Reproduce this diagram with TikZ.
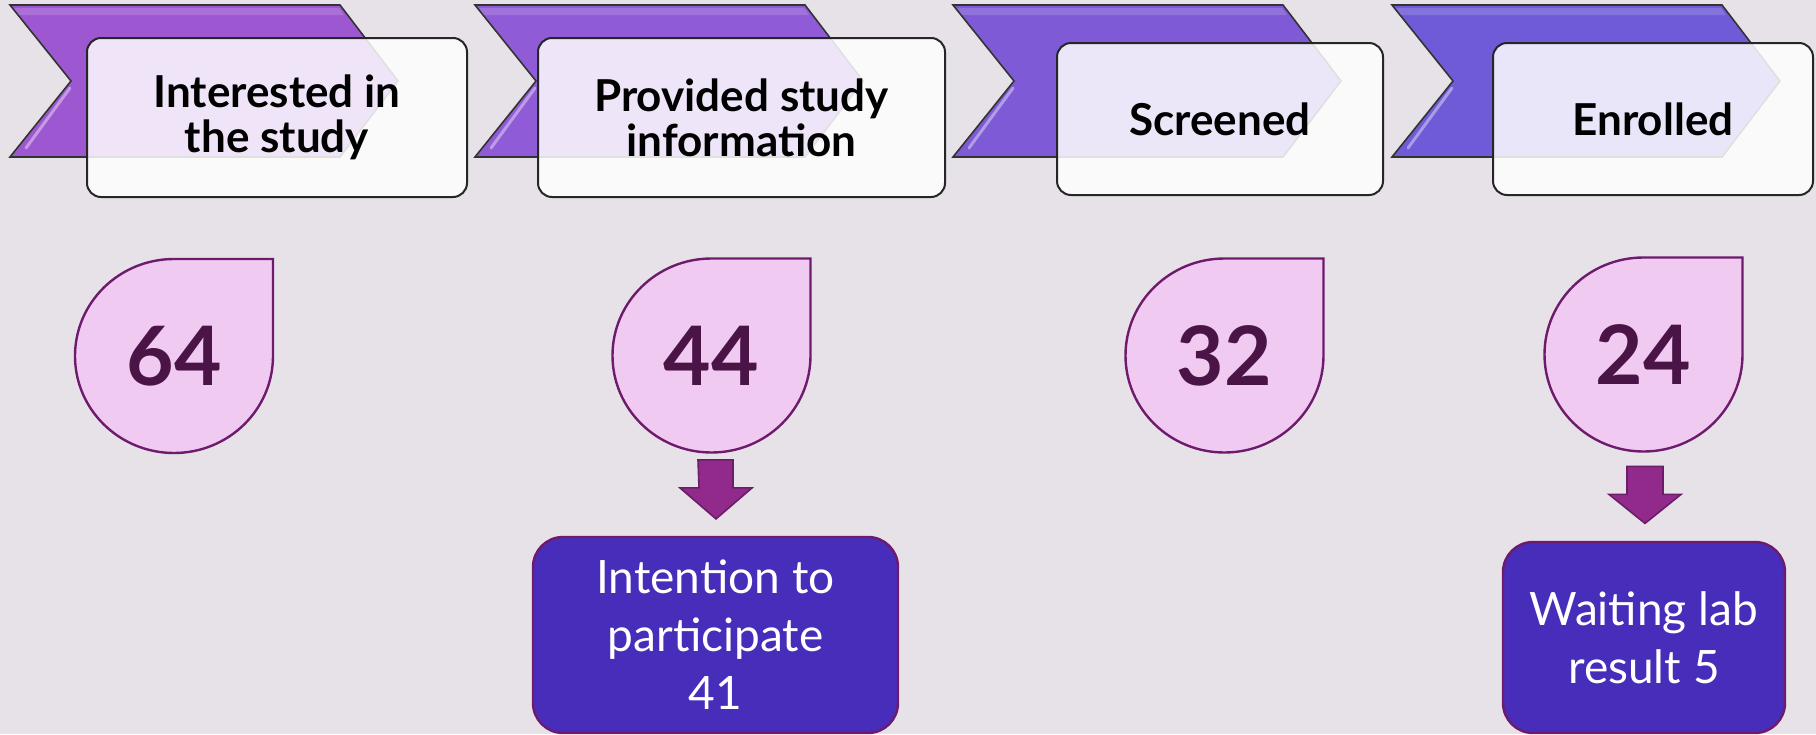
\documentclass[tikz,border=0pt]{standalone}
\usepackage{fontspec}
\setmainfont{Lato}
\usetikzlibrary{calc}
\definecolor{bgc}{HTML}{E6E2E8}
\definecolor{chevA}{HTML}{9D57D1}
\definecolor{chevB}{HTML}{905BD6}
\definecolor{chevC}{HTML}{7E5AD6}
\definecolor{chevD}{HTML}{6F5BD7}
\definecolor{dropfill}{HTML}{F0CAF0}
\definecolor{dropline}{HTML}{6E1B6E}
\definecolor{numc}{HTML}{4A1447}
\definecolor{arrowfill}{HTML}{922A8C}
\definecolor{arrowline}{HTML}{6B1D6B}
\definecolor{boxfill}{HTML}{472DBA}
\begin{document}
\begin{tikzpicture}[x=0.5pt,y=-0.5pt,
  chev/.style={draw=black!80, line width=0.8pt, line join=miter},
  hbox/.style={draw=black!85, line width=1pt, rounded corners=7pt, fill=white, fill opacity=0.85, text opacity=1, font=\fontsize{22}{22.5}\selectfont\bfseries, align=center, inner sep=0pt},
  drop/.style={circle, minimum size=98pt, inner sep=0pt, text=numc, font=\fontsize{41}{41}\selectfont\bfseries},
  dropshape/.style={fill=dropfill, draw=dropline, line width=1.2pt},
  rbox/.style={rectangle, rounded corners=15pt, fill=boxfill, draw=dropline, line width=1.2pt, text=white, align=center, font=\fontsize{23}{29}\selectfont, inner sep=0pt},
  barrow/.style={fill=arrowfill, draw=arrowline, line width=0.8pt, line join=miter},
  gloss/.style={draw=white, opacity=0.4, line width=1.5pt, line cap=round}]
\fill[bgc] (0,0) rectangle (1816,734);
\useasboundingbox (0,0) rectangle (1816,734);
% chevrons
\foreach \L/\c in {10/chevA, 475/chevB, 953/chevC, 1392/chevD}{
  \filldraw[chev, fill=\c] (\L,5) -- (\L+330,5) -- (\L+388,81) -- (\L+330,157) -- (\L,157) -- (\L+61,81) -- cycle;
  \fill[white, opacity=0.15] (\L+4,8) -- (\L+329,8) -- (\L+334,15) -- (\L+9,15) -- cycle;
  \draw[gloss] (\L+60,88) -- (\L+16,148);
}
% header boxes
\node[hbox, minimum width=190pt, minimum height=79.5pt] (h1) at (277,117.5) {Interested in\\the study};
\node[hbox, minimum width=203.5pt, minimum height=79.5pt] (h2) at (741.5,117.5) {Provided study\\information};
\node[hbox, minimum width=163pt, minimum height=76pt] (h3) at (1220,119) {Screened};
\node[hbox, minimum width=160pt, minimum height=76pt] (h4) at (1653,119) {Enrolled};
% teardrops
\foreach \cx/\cy in {174/356, 711.5/355.5, 1224.5/355.5, 1643.5/354.5}{
  \filldraw[dropshape] (\cx+99,\cy) arc[start angle=0, end angle=270, x radius=99, y radius=97] -- (\cx+99,\cy-97) -- cycle;
}
\node[drop] (d64) at (174,356) {64};
\node[drop] (d44) at (711.5,355.5) {44};
\node[drop] (d32) at (1224.5,355.5) {32};
\node[drop] (d24) at (1643.5,354.5) {24};
% bottom boxes
\node[rbox, minimum width=182.5pt, minimum height=98pt] (b41) at (715.5,635) {Intention to\\participate\\41};
\node[rbox, minimum width=141pt, minimum height=95.5pt] (b5) at (1644,637.5) {Waiting lab\\result 5};
% block arrows
\draw[barrow] ($(d44.south)+(-13.5,6)$) -- ++(35,0) -- ++(0,28) -- ++(19,0) -- ++(-36,31) -- ++(-36,-31) -- ++(19,0) -- cycle;
\draw[barrow] ($(d24.south)+(-16.5,13.5)$) -- ++(36,0) -- ++(0,28) -- ++(18,0) -- ++(-36,29) -- ++(-36,-29) -- ++(18,0) -- cycle;
\end{tikzpicture}
\end{document}
